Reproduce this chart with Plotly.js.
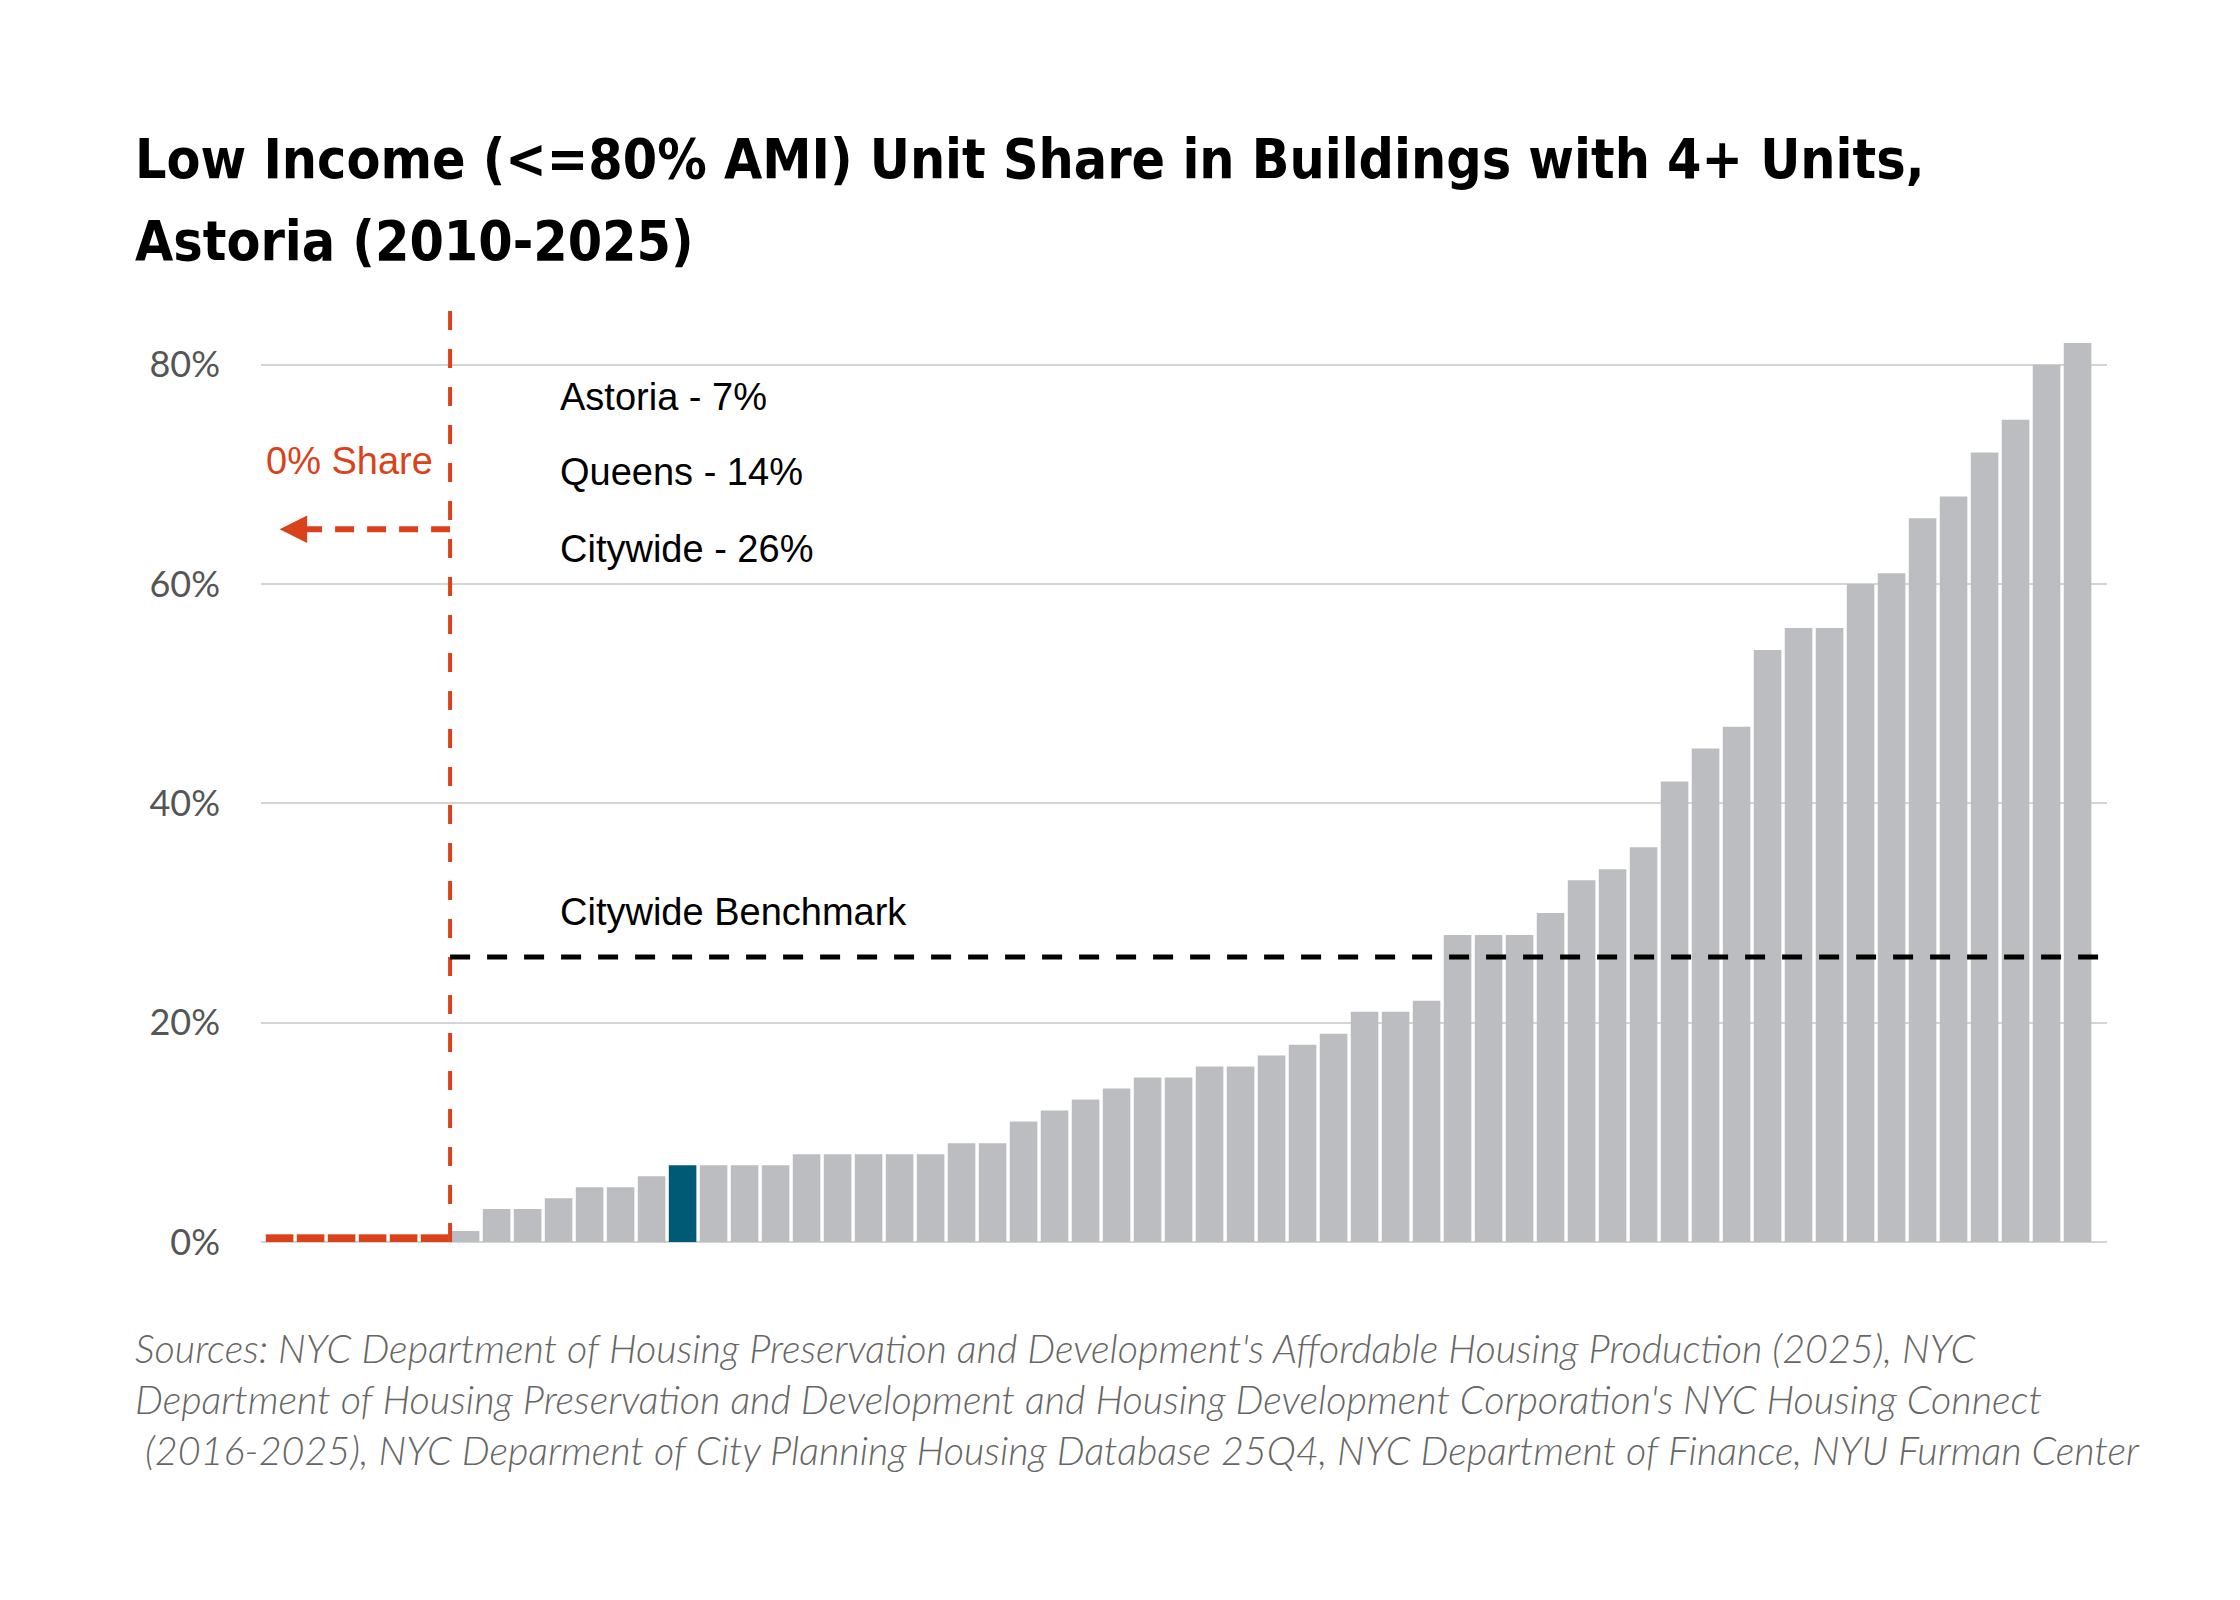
<!DOCTYPE html>
<html>
<head>
<meta charset="utf-8">
<script src="https://cdn.plot.ly/plotly-3.0.1.min.js"></script>
<style>
  body { margin: 0; background: #fff; }
  #chart { width: 2240px; height: 1600px; }
</style>
</head>
<body>
<div id="chart"></div>
<script>
// low income unit share per building, sorted, Astoria
var shares = [0, 0, 0, 0, 0, 0,
  1, 3, 3, 4, 5, 5, 6, 7, 7, 7, 7, 8, 8, 8, 8, 8, 9, 9,
  11, 12, 13, 14, 15, 15, 16, 16, 17, 18, 19, 21, 21, 22,
  28, 28, 28, 30, 33, 34, 36, 42, 45, 47, 54, 56, 56,
  60, 61, 66, 68, 72, 75, 80, 82];
var buildings = shares.map(function (v, i) { return i; });
var astoriaIndex = 13;
var citywideBenchmark = 26;

var benchmarks = ["Astoria - 7%", "Queens - 14%", "Citywide - 26%"];
var yTicks = [0, 20, 40, 60, 80];
var yTickLabels = yTicks.map(function (t) { return t + "%"; });

var titleLines = [
  "Low Income (<=80% AMI) Unit Share in Buildings with 4+ Units,",
  "Astoria (2010-2025)"
];
var sourceLines = [
  "Sources: NYC Department of Housing Preservation and Development's Affordable Housing Production (2025), NYC",
  "Department of Housing Preservation and Development and Housing Development Corporation's NYC Housing Connect",
  " (2016-2025), NYC Deparment of City Planning Housing Database 25Q4, NYC Department of Finance, NYU Furman Center"
];

var GRAY = "#bcbdc1", TEAL = "#005a76", ORANGE = "#d9421a";
var W = 2240, H = 1600;
var L = 261, R = 133, T = 310, B = 358;

// pixel -> paper helpers for the text outside the plot
function px(x) { return (x - L) / (W - L - R); }
function py(y) { return (H - B - y) / (H - T - B); }

var zeroIdx = shares.map(function (v) { return v === 0; });
var firstNonZero = zeroIdx.indexOf(false);
var cutX = firstNonZero - 0.5;

var barColors = shares.map(function (v, i) { return i === astoriaIndex ? TEAL : GRAY; });

var mainBars = {
  type: "bar",
  x: buildings,
  y: shares,
  marker: { color: barColors },
  hoverinfo: "skip"
};
// zero-share buildings shown as thin orange marks at the baseline
var zeroBars = {
  type: "bar",
  x: buildings,
  y: shares.map(function (v) { return v === 0 ? 0.7 : null; }),
  marker: { color: ORANGE },
  hoverinfo: "skip"
};

var annotations = [];
titleLines.forEach(function (t, i) {
  annotations.push({
    text: "<b>" + t + "</b>", xref: "paper", yref: "paper",
    x: px(133), y: py(159 + i * 82), xanchor: "left", yanchor: "middle",
    showarrow: false,
    font: { family: "Liberation Sans Narrow, DejaVu Sans Condensed, sans-serif", size: 55, color: "#000" }
  });
});
sourceLines.forEach(function (t, i) {
  annotations.push({
    text: "<i>" + t.replace(/^ /, "&nbsp;") + "</i>", xref: "paper", yref: "paper",
    x: px(133), y: py(1347 + i * 51), xanchor: "left", yanchor: "middle",
    showarrow: false,
    font: { family: "Lato, sans-serif", size: 39.5, color: "#666", weight: 300 }
  });
});
var benchY = [77.1, 70.2, 63.2];
benchmarks.forEach(function (t, i) {
  annotations.push({
    text: t, x: 8.97, y: benchY[i], xanchor: "left", yanchor: "middle",
    showarrow: false,
    font: { family: "Liberation Sans, Arial, sans-serif", size: 38, color: "#000" }
  });
});
annotations.push({
  text: "Citywide Benchmark", x: 8.97, y: 30.1, xanchor: "left", yanchor: "middle",
  showarrow: false,
  font: { family: "Liberation Sans, Arial, sans-serif", size: 38, color: "#000" }
});
annotations.push({
  text: "0% Share", x: 5.01, y: 71.2, xanchor: "right", yanchor: "middle",
  showarrow: false,
  font: { family: "Liberation Sans, Arial, sans-serif", size: 38, color: ORANGE }
});
// arrow head pointing at the zero-share group
annotations.push({
  text: "", x: 0, y: 65, ax: 0.5, ay: 65, axref: "x", ayref: "y",
  showarrow: true, arrowhead: 2, arrowsize: 1.1, arrowwidth: 5, arrowcolor: ORANGE
});

var shapes = [
  { type: "line", x0: cutX, x1: cutX, y0: 0, y1: 85,
    line: { color: ORANGE, width: 4, dash: "19px,19px" } },
  { type: "line", x0: cutX, x1: 0.4, y0: 65, y1: 65,
    line: { color: ORANGE, width: 6, dash: "19px,13px" } },
  { type: "line", x0: cutX, x1: 58.95, y0: citywideBenchmark, y1: citywideBenchmark,
    line: { color: "#000", width: 5, dash: "20px,17px" } }
];

var layout = {
  width: W, height: H,
  margin: { l: L, r: R, t: T, b: B },
  paper_bgcolor: "#fff", plot_bgcolor: "#fff",
  showlegend: false,
  barmode: "overlay",
  bargap: 0.11,
  xaxis: {
    range: [-0.6, 58.95], showgrid: false, zeroline: false,
    showticklabels: false, ticks: "", fixedrange: true
  },
  yaxis: {
    range: [0, 85], tickvals: yTicks, ticktext: yTickLabels,
    showgrid: true, gridcolor: "#d4d4d4", gridwidth: 2,
    zeroline: true, zerolinecolor: "#d4d4d4", zerolinewidth: 2,
    ticks: "", ticklabelstandoff: 40,
    tickfont: { family: "Lato, sans-serif", size: 36, color: "#555" }
  },
  shapes: shapes,
  annotations: annotations
};

Plotly.newPlot("chart", [mainBars, zeroBars], layout, { displayModeBar: false, staticPlot: true });
</script>
</body>
</html>
